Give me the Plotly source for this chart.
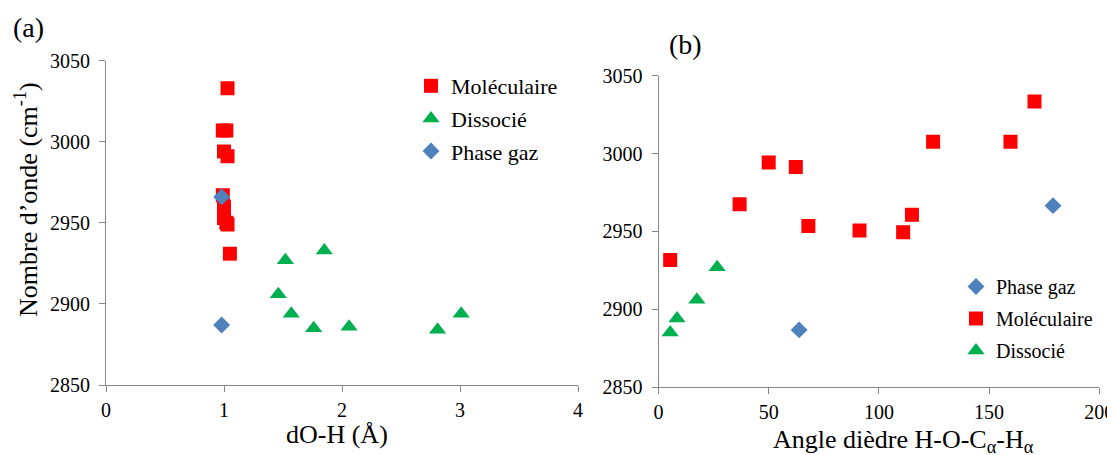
import plotly.graph_objects as go

# ---- data: panel (a) dO-H distance ----
mol_a_x = [1.03, 0.99, 1.02, 1.00, 1.03, 0.99, 1.00, 1.00, 1.02, 1.03, 1.05]
mol_a_y = [3033, 3007, 3007, 2994, 2991, 2967, 2960, 2953, 2950, 2949, 2931]
dis_a_x = [1.52, 1.85, 1.46, 1.57, 1.76, 2.06, 2.81, 3.01]
dis_a_y = [2927, 2933, 2906, 2894, 2885, 2886, 2884, 2894]
gaz_a_x = [0.98, 0.98]
gaz_a_y = [2966, 2887]

# ---- data: panel (b) dihedral angle ----
mol_b_x = [5.3, 36.8, 50, 62.3, 68, 91.2, 111, 115, 124.6, 159.7, 170.6]
mol_b_y = [2931.6, 2967.4, 2994.2, 2991.4, 2953.5, 2950.5, 2949.5, 2960.6, 3007.6, 3007.6, 3033.4]
dis_b_x = [5.3, 8.4, 17.4, 26.6]
dis_b_y = [2885, 2894, 2906, 2927]
gaz_b_x = [63.8, 179]
gaz_b_y = [2886.7, 2966.5]

x_a_ticks = [0, 1, 2, 3, 4]
x_b_ticks = [0, 50, 100, 150, 200]
y_ticks = [2850, 2900, 2950, 3000, 3050]

RED = "#FF0000"
GREEN = "#00B050"
BLUE = "#4F81BD"
AX = "#868686"
FONT = "Liberation Serif, Times New Roman, serif"

# page has an 8px body margin: the figure is sized to fit inside the window
OFF = 8
W, H = 1115 - OFF, 455 - OFF

fig = go.Figure()

sq = dict(symbol="square", size=14, color=RED)
tri = dict(symbol="triangle-up", size=15, color=GREEN)
dia = dict(symbol="diamond", size=13, color=BLUE)

# panel (a) traces (legend order: Moléculaire, Dissocié, Phase gaz)
fig.add_trace(go.Scatter(x=mol_a_x, y=mol_a_y, mode="markers", marker=sq,
                         name="Moléculaire", xaxis="x", yaxis="y", legend="legend",
                         legendgroup="a1"))
fig.add_trace(go.Scatter(x=dis_a_x, y=dis_a_y, mode="markers", marker=tri,
                         name="Dissocié", xaxis="x", yaxis="y", legend="legend",
                         legendgroup="a2"))
fig.add_trace(go.Scatter(x=gaz_a_x, y=gaz_a_y, mode="markers", marker=dia,
                         name="Phase gaz", xaxis="x", yaxis="y", legend="legend",
                         legendgroup="a3"))

# panel (b) traces (legend order: Phase gaz, Moléculaire, Dissocié)
fig.add_trace(go.Scatter(x=gaz_b_x, y=gaz_b_y, mode="markers", marker=dia,
                         name="Phase gaz", xaxis="x2", yaxis="y2", legend="legend2",
                         legendgroup="b1"))
fig.add_trace(go.Scatter(x=mol_b_x, y=mol_b_y, mode="markers", marker=sq,
                         name="Moléculaire", xaxis="x2", yaxis="y2", legend="legend2",
                         legendgroup="b2"))
fig.add_trace(go.Scatter(x=dis_b_x, y=dis_b_y, mode="markers", marker=tri,
                         name="Dissocié", xaxis="x2", yaxis="y2", legend="legend2",
                         legendgroup="b3"))

def px_x(p):
    return (p - OFF) / W

def px_y(p):
    return 1 - (p - OFF) / H

axis_common = dict(showgrid=False, zeroline=False, showline=True, linecolor=AX,
                   linewidth=1, ticks="outside", ticklen=6, tickcolor=AX,
                   automargin=False,
                   tickfont=dict(family=FONT, size=20, color="black"))
xstand = dict(ticklabelstandoff=1)
ystand = dict(ticklabelstandoff=5)

def ann(text, x, y, size, angle=0):
    return dict(text=text, x=px_x(x), y=px_y(y), xref="paper", yref="paper",
                xanchor="center", yanchor="middle", showarrow=False,
                textangle=angle, font=dict(family=FONT, size=size, color="black"))

fig.update_layout(
    template="none",
    width=W, height=H,
    margin=dict(l=0, r=0, t=0, b=0, autoexpand=False),
    paper_bgcolor="white", plot_bgcolor="white",
    font=dict(family=FONT, color="black"),
    xaxis=dict(domain=[px_x(106), px_x(578)], range=[0, 4], tickvals=x_a_ticks,
               anchor="y", **axis_common, **xstand),
    yaxis=dict(domain=[px_y(385), px_y(60.7)], range=[2850, 3050], tickvals=y_ticks,
               anchor="x", **axis_common, **ystand),
    xaxis2=dict(domain=[px_x(658.5), px_x(1099.3)], range=[0, 200], tickvals=x_b_ticks,
                anchor="y2", **axis_common, **xstand),
    yaxis2=dict(domain=[px_y(387), px_y(75.7)], range=[2850, 3050], tickvals=y_ticks,
                anchor="x2", **axis_common, **ystand),
    legend=dict(x=px_x(411), y=px_y(65), xanchor="left", yanchor="top",
                font=dict(family=FONT, size=22), bgcolor="rgba(0,0,0,0)",
                tracegroupgap=1),
    legend2=dict(x=px_x(956), y=px_y(267), xanchor="left", yanchor="top",
                 font=dict(family=FONT, size=20), bgcolor="rgba(0,0,0,0)",
                 tracegroupgap=3),
    annotations=[
        ann("(a)", 28, 27.5, 28),
        ann("(b)", 685, 44, 28),
        ann("Nombre d’onde (cm<sup>-1</sup>)", 26, 200, 26, angle=-90),
        ann("dO-H (Å)", 337, 434, 26),
        ann("Angle dièdre H-O-C<sub>α</sub>-H<sub>α</sub>", 903, 441, 26),
    ],
)

fig.write_html("out.html")
